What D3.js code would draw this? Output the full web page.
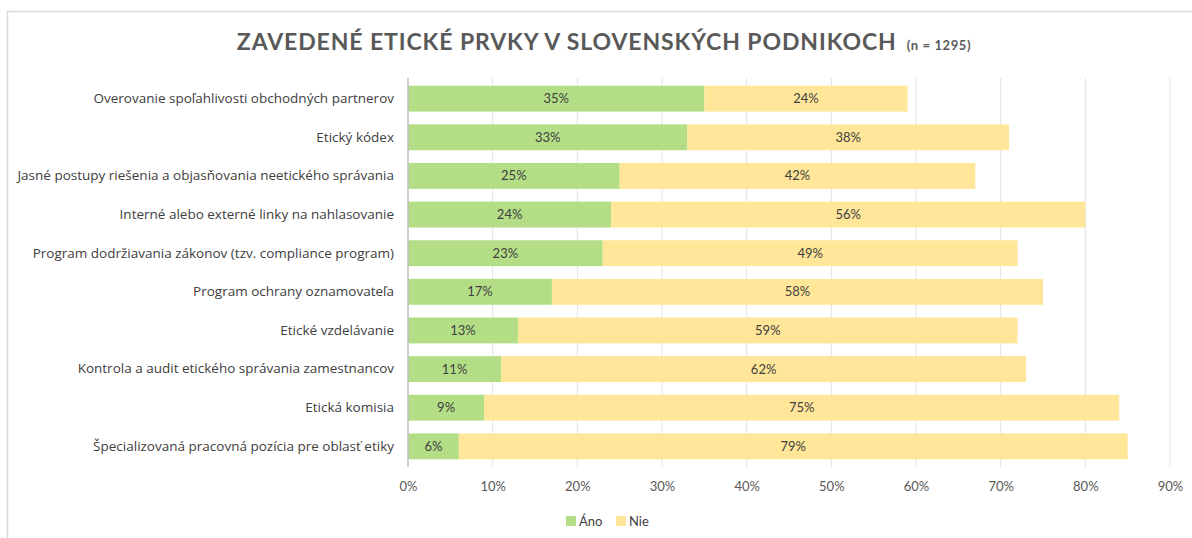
<!DOCTYPE html>
<html>
<head>
<meta charset="utf-8">
<script src="https://cdn.jsdelivr.net/npm/d3@7"></script>
<style>
  body { margin: 0; background: #fff; }
  text { font-family: Lato, "Open Sans", sans-serif; }
</style>
</head>
<body>
<svg id="chart" width="1192" height="538"></svg>
<script>
const categories = [
  "Overovanie spoľahlivosti obchodných partnerov",
  "Etický kódex",
  "Jasné postupy riešenia a objasňovania neetického správania",
  "Interné alebo externé linky na nahlasovanie ",
  "Program dodržiavania zákonov (tzv. compliance program)",
  "Program ochrany oznamovateľa",
  "Etické vzdelávanie",
  "Kontrola a audit etického správania zamestnancov",
  "Etická komisia",
  "Špecializovaná pracovná pozícia pre oblasť etiky"
];
const ano = [35, 33, 25, 24, 23, 17, 13, 11, 9, 6];
const nie = [24, 38, 42, 56, 49, 58, 59, 62, 75, 79];
const xTicks = [0, 10, 20, 30, 40, 50, 60, 70, 80, 90];
const seriesNames = ["Áno", "Nie"];
const colors = ["#b3de86", "#ffe699"];

const svg = d3.select("#chart");
const margin = { top: 78, left: 408, right: 22, bottom: 71 };
const W = 1192, H = 538;

// outer frame (top and left edge only visible)
svg.append("path")
  .attr("d", `M7.5,${H} V11.5 H${W}`)
  .attr("fill", "none")
  .attr("stroke", "#d9d9d9")
  .attr("stroke-width", 1.5);

const x = d3.scaleLinear().domain([0, 90]).range([margin.left, W - margin.right]);
const y = d3.scaleBand().domain(categories).range([margin.top, H - margin.bottom]).paddingInner(0.33).paddingOuter(0.2);

// gridlines
svg.append("g")
  .selectAll("line")
  .data(xTicks.slice(1))
  .join("line")
  .attr("x1", d => x(d)).attr("x2", d => x(d))
  .attr("y1", margin.top).attr("y2", H - margin.bottom)
  .attr("stroke", "#e3e3e3")
  .attr("stroke-width", 1);

const rows = categories.map((c, i) => ({ c, a: ano[i], n: nie[i] }));

const g = svg.append("g");
g.selectAll("rect.ano")
  .data(rows)
  .join("rect")
  .attr("class", "ano")
  .attr("x", x(0))
  .attr("y", d => y(d.c))
  .attr("width", d => x(d.a) - x(0))
  .attr("height", y.bandwidth())
  .attr("fill", colors[0]);

g.selectAll("rect.nie")
  .data(rows)
  .join("rect")
  .attr("class", "nie")
  .attr("x", d => x(d.a))
  .attr("y", d => y(d.c))
  .attr("width", d => x(d.a + d.n) - x(d.a))
  .attr("height", y.bandwidth())
  .attr("fill", colors[1]);

// value labels
g.selectAll("text.la")
  .data(rows)
  .join("text")
  .attr("x", d => (x(0) + x(d.a)) / 2)
  .attr("y", d => y(d.c) + y.bandwidth() / 2)
  .attr("dy", "0.35em")
  .attr("text-anchor", "middle")
  .attr("font-size", 13)
  .attr("fill", "#404040")
  .text(d => d.a + "%");

g.selectAll("text.ln")
  .data(rows)
  .join("text")
  .attr("x", d => (x(d.a) + x(d.a + d.n)) / 2)
  .attr("y", d => y(d.c) + y.bandwidth() / 2)
  .attr("dy", "0.35em")
  .attr("text-anchor", "middle")
  .attr("font-size", 13)
  .attr("fill", "#404040")
  .text(d => d.n + "%");

// left axis line
svg.append("line")
  .attr("x1", x(0)).attr("x2", x(0))
  .attr("y1", margin.top).attr("y2", H - margin.bottom)
  .attr("stroke", "#bfbfbf")
  .attr("stroke-width", 1.5);

// category labels
const yAxis = svg.append("g")
  .attr("transform", `translate(${x(0) - 14},0)`)
  .call(d3.axisLeft(y).tickSize(0).tickPadding(0));
yAxis.select(".domain").remove();
yAxis.selectAll("text")
  .attr("font-size", 13.5)
  .attr("fill", "#404040")
  .style("font-family", "'Open Sans', Lato, sans-serif");

// x axis labels
const xAxis = svg.append("g")
  .attr("transform", `translate(0,${H - margin.bottom})`)
  .call(d3.axisBottom(x).tickValues(xTicks).tickSize(0).tickPadding(15).tickFormat(d => d + "%"));
xAxis.select(".domain").remove();
xAxis.selectAll("text")
  .attr("font-size", 13)
  .attr("fill", "#595959")
  .style("font-family", "Lato, 'Open Sans', sans-serif");

// title
const title = svg.append("text")
  .attr("x", 604)
  .attr("y", 50)
  .attr("text-anchor", "middle")
  .attr("fill", "#595959");
title.append("tspan")
  .attr("font-size", 23)
  .attr("font-weight", "bold")
  .attr("letter-spacing", 0.9)
  .text("ZAVEDENÉ ETICKÉ PRVKY V SLOVENSKÝCH PODNIKOCH");
title.append("tspan")
  .attr("font-size", 13)
  .attr("font-weight", "bold")
  .attr("dx", 10)
  .attr("letter-spacing", 0.6)
  .text("(n = 1295)");

// legend
const legend = svg.append("g").attr("transform", "translate(566,521)");
const items = legend.selectAll("g")
  .data(seriesNames)
  .join("g")
  .attr("transform", (d, i) => `translate(${i * 50},0)`);
items.append("rect")
  .attr("x", 0).attr("y", -5)
  .attr("width", 10).attr("height", 10)
  .attr("fill", (d, i) => colors[i]);
items.append("text")
  .attr("x", 13)
  .attr("dy", "0.35em")
  .attr("font-size", 13)
  .attr("fill", "#404040")
  .text(d => d);
</script>
</body>
</html>
